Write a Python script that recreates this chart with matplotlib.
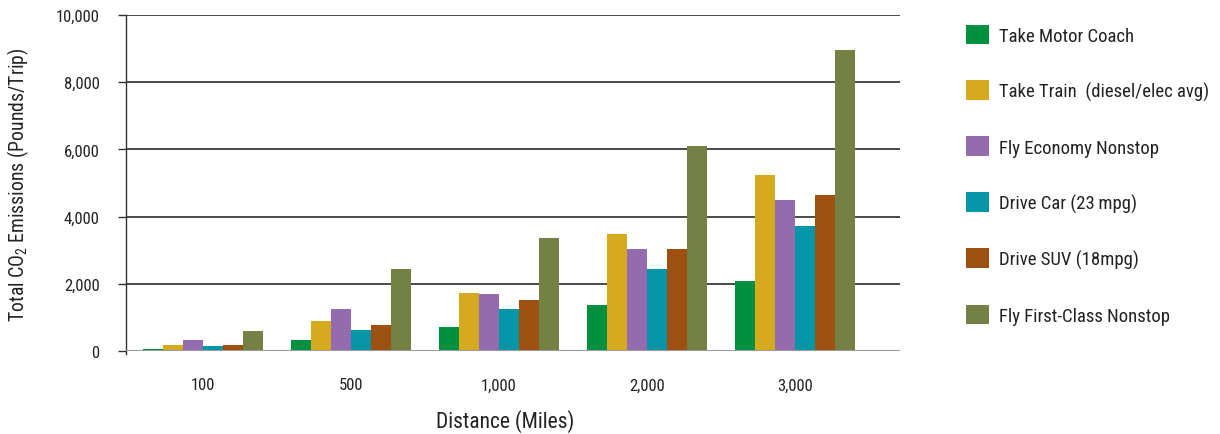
import matplotlib
matplotlib.use("Agg")
import matplotlib.pyplot as plt
import numpy as np

plt.rcParams['font.family'] = ['Roboto Condensed', 'Liberation Sans Narrow', 'DejaVu Sans']

categories = ["100", "500", "1,000", "2,000", "3,000"]
series_names = ["Take Motor Coach", "Take Train  (diesel/elec avg)", "Fly Economy Nonstop",
                "Drive Car (23\u2009mpg)", "Drive SUV (18mpg)", "Fly First-Class Nonstop"]
motor_coach = [50, 318, 705, 1360, 2074]
train = [170, 884, 1717, 3473, 5229]
fly_economy = [318, 1241, 1688, 3027, 4485]
drive_car = [140, 616, 1241, 2432, 3711]
drive_suv = [170, 765, 1509, 3027, 4634]
fly_first = [586, 2432, 3354, 6092, 8949]
series = [motor_coach, train, fly_economy, drive_car, drive_suv, fly_first]
colors = ["#009040", "#D6AA1E", "#946BAE", "#0495A7", "#9E5011", "#748044"]
yticks = [0, 2000, 4000, 6000, 8000, 10000]

fig = plt.figure(figsize=(12.2, 4.35), dpi=100)
ax = fig.add_axes([126/1220, 83/435, 774/1220, 336/435])

x = np.arange(len(categories))
bw = 0.135
for i, (vals, name, c) in enumerate(zip(series, series_names, colors)):
    ax.bar(x + (i - 2.5) * bw, vals, width=bw, color=c, label=name, zorder=3)

ax.set_xlim(-0.52, 4.71)
ax.set_ylim(0, 10000)
ax.set_yticks(yticks)
ax.set_yticklabels([f"{v:,}" for v in yticks])
ax.set_xticks(x)
ax.set_xticklabels(categories)

for v in yticks[1:]:
    ax.axhline(v, color="#3a3a3a", lw=1.3, zorder=1)
ax.axhline(0, color="#9a9a9a", lw=2.2, zorder=4)

for s in ["top", "right", "bottom"]:
    ax.spines[s].set_visible(False)
ax.spines["left"].set_color("#333333")
ax.spines["left"].set_linewidth(1.0)
ax.spines["left"].set_bounds(-100, 10000)

ax.tick_params(axis="y", length=6, width=1, color="#333333", pad=13, labelsize=12, labelcolor="#222222")
ax.tick_params(axis="x", length=0, pad=19, labelsize=12, labelcolor="#222222")

ax.set_ylabel("Total CO$_\\mathregular{2}$ Emissions (Pounds/Trip)", fontsize=14.2, color="#222222")
ax.yaxis.set_label_coords(-0.123, 0.497)
ax.set_xlabel("Distance (Miles)", fontsize=15.5, color="#222222")
ax.xaxis.set_label_coords(0.49, -0.172)

leg = fig.legend(loc="upper left", bbox_to_anchor=(958/1220, 1 - 18/435), frameon=False,
                 fontsize=13.5, handlelength=1.25, handleheight=1.25, handletextpad=0.55,
                 labelspacing=1.90, borderaxespad=0)
for t in leg.get_texts():
    t.set_color("#222222")

fig.savefig("out.png", dpi=100)
